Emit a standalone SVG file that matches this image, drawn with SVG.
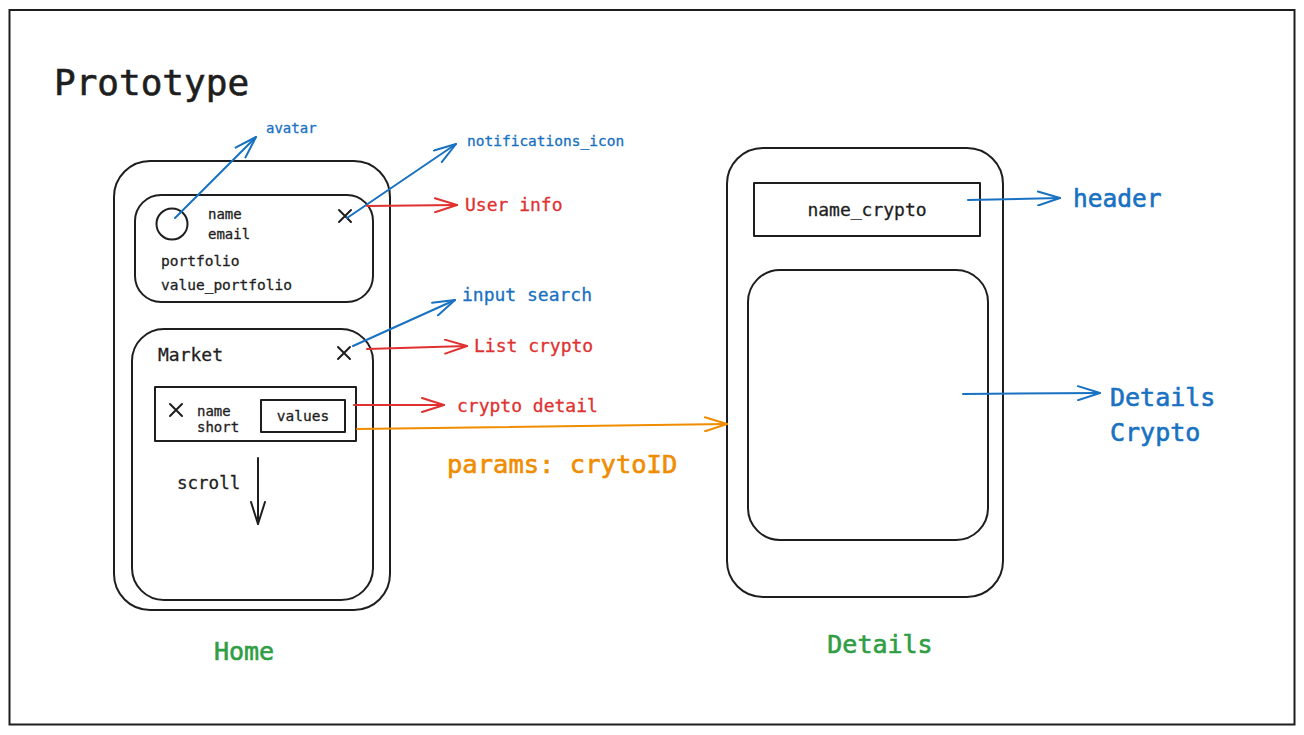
<svg xmlns="http://www.w3.org/2000/svg" width="1304" height="735" viewBox="0 0 1304 735">
<defs>
<style>
.shape{fill:none;stroke:#1e1e1e;stroke-width:2;stroke-linejoin:round;stroke-linecap:round}
.t{font-family:"DejaVu Sans Mono","Liberation Mono",monospace;fill:#1e1e1e;stroke:#1e1e1e;stroke-width:0.3}
.blue{fill:#1971c2;stroke:#1971c2}.red{fill:#e03131;stroke:#e03131}.orange{fill:#f08c00;stroke:#f08c00}.green{fill:#2f9e44;stroke:#2f9e44}
.heavy{stroke-width:0.6}
.cb{fill:none;stroke:#1971c2;stroke-width:2;stroke-linecap:round}
.cr{fill:none;stroke:#e03131;stroke-width:2;stroke-linecap:round}
.co{fill:none;stroke:#f08c00;stroke-width:2;stroke-linecap:round}
</style>
<marker id="ab" viewBox="0 0 24 16" refX="23" refY="8" markerWidth="12" markerHeight="8" orient="auto" markerUnits="strokeWidth"><path d="M1,1 L23,8 L1,15" fill="none" stroke="#1971c2" stroke-width="2" stroke-linecap="round" stroke-linejoin="round"/></marker>
<marker id="ar" viewBox="0 0 24 16" refX="23" refY="8" markerWidth="12" markerHeight="8" orient="auto" markerUnits="strokeWidth"><path d="M1,1 L23,8 L1,15" fill="none" stroke="#e03131" stroke-width="2" stroke-linecap="round" stroke-linejoin="round"/></marker>
<marker id="ao" viewBox="0 0 24 16" refX="23" refY="8" markerWidth="12" markerHeight="8" orient="auto" markerUnits="strokeWidth"><path d="M1,1 L23,8 L1,15" fill="none" stroke="#f08c00" stroke-width="2" stroke-linecap="round" stroke-linejoin="round"/></marker>
<marker id="ak" viewBox="0 0 24 16" refX="23" refY="8" markerWidth="12" markerHeight="8" orient="auto" markerUnits="strokeWidth"><path d="M1,1 L23,8 L1,15" fill="none" stroke="#1e1e1e" stroke-width="2" stroke-linecap="round" stroke-linejoin="round"/></marker>
</defs>
<rect width="1304" height="735" fill="#ffffff"/>
<rect x="9.5" y="10" width="1285" height="714.5" fill="none" stroke="#1e1e1e" stroke-width="2"/>
<text class="t heavy" x="54" y="95" font-size="36">Prototype</text>

<g id="home">
<rect class="shape" x="114" y="161" width="276" height="449" rx="36"/>
<text class="t green heavy" x="244" y="660" font-size="25" text-anchor="middle">Home</text>
</g>
<g id="user-info-box">
<rect class="shape" x="135" y="195" width="238" height="107" rx="26"/>
<circle class="shape" cx="172" cy="224" r="15.5"/>
<text class="t" x="208" y="219" font-size="14">name</text>
<text class="t" x="208" y="239" font-size="14">email</text>
<text class="t" x="161" y="266" font-size="14.5">portfolio</text>
<text class="t" x="161" y="290" font-size="14.5">value_portfolio</text>
<path class="shape" d="M339,210 L351,222 M351,210 L339,222"/>
</g>
<g id="market-box">
<rect class="shape" x="132" y="329" width="241" height="271" rx="32"/>
<text class="t" x="158" y="361" font-size="18">Market</text>
<path class="shape" d="M338,347 L350,359 M350,347 L338,359"/>
<text class="t" x="177" y="489" font-size="17.5">scroll</text>
<line class="shape" x1="258" y1="458" x2="258" y2="524" marker-end="url(#ak)"/>
</g>
<g id="crypto-item">
<rect class="shape" x="155" y="387" width="201" height="54"/>
<path class="shape" d="M170,404 L182,416 M182,404 L170,416"/>
<text class="t" x="197" y="416" font-size="14">name</text>
<text class="t" x="197" y="432" font-size="14">short</text>
<rect class="shape" x="261" y="400" width="84" height="32"/>
<text class="t" x="303" y="421" font-size="14.5" text-anchor="middle">values</text>
</g>

<g id="details">
<rect class="shape" x="727" y="148" width="276" height="449" rx="36"/>
<text class="t green heavy" x="880" y="653" font-size="25" text-anchor="middle">Details</text>
</g>
<g id="header-box">
<rect class="shape" x="754" y="183" width="226" height="53"/>
<text class="t" x="867" y="216" font-size="18" text-anchor="middle">name_crypto</text>
</g>
<g id="details-body">
<rect class="shape" x="748" y="270" width="240" height="270" rx="32"/>
</g>

<g id="labels">
<text class="t blue" x="266" y="133" font-size="14">avatar</text>
<text class="t blue" x="467" y="146" font-size="14.5">notifications_icon</text>
<text class="t red" x="465" y="211" font-size="18">User info</text>
<text class="t blue" x="462" y="301" font-size="18">input search</text>
<text class="t red" x="474" y="352" font-size="18">List crypto</text>
<text class="t red" x="457" y="412" font-size="18">crypto detail</text>
<text class="t orange heavy" x="447" y="473" font-size="25.5">params: crytoID</text>
<text class="t blue heavy" x="1073" y="207" font-size="24.5">header</text>
<text class="t blue heavy" x="1110" y="406" font-size="25">Details</text>
<text class="t blue heavy" x="1110" y="441" font-size="25">Crypto</text>
</g>

<g id="connectors">
<line class="cb" x1="175" y1="218" x2="256" y2="137" marker-end="url(#ab)"/>
<line class="cb" x1="347" y1="218" x2="456" y2="144" marker-end="url(#ab)"/>
<line class="cr" x1="367" y1="206" x2="457" y2="205" marker-end="url(#ar)"/>
<line class="cb" x1="353" y1="346" x2="455" y2="300" marker-end="url(#ab)"/>
<line class="cr" x1="367" y1="349" x2="467" y2="346" marker-end="url(#ar)"/>
<line class="cr" x1="354" y1="405" x2="444" y2="405" marker-end="url(#ar)"/>
<line class="co" x1="357" y1="429" x2="727" y2="424" marker-end="url(#ao)"/>
<line class="cb" x1="968" y1="200" x2="1060" y2="198" marker-end="url(#ab)"/>
<line class="cb" x1="963" y1="394" x2="1100" y2="393" marker-end="url(#ab)"/>
</g>
</svg>
